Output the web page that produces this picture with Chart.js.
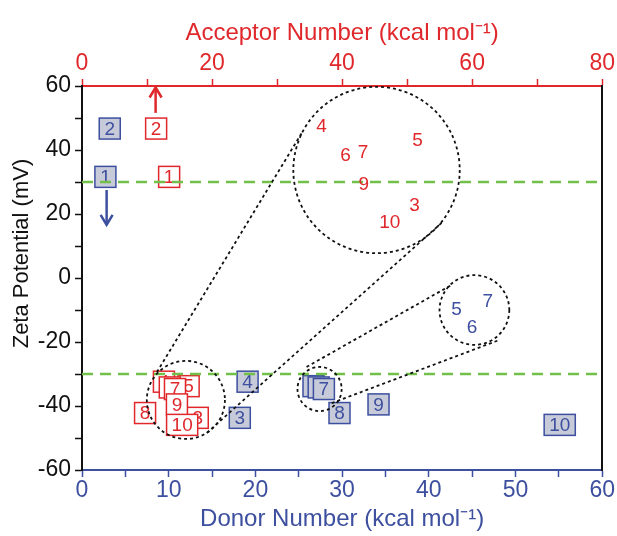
<!DOCTYPE html>
<html>
<head>
<meta charset="utf-8">
<script src="https://cdn.jsdelivr.net/npm/chart.js@4.4.1/dist/chart.umd.min.js"></script>
<style>
  html, body { margin: 0; padding: 0; background: #ffffff; }
  #wrap { width: 617px; height: 536px; }
</style>
</head>
<body>
<div id="wrap"><canvas id="c" width="617" height="536"></canvas></div>
<script>
// ---------------- DATA ----------------
const sampleLabels   = ['1', '2', '3', '4', '5', '6', '7', '8', '9', '10'];
const donorNumber    = [2.7, 3.2, 18.2, 19.1, 26.7, 27.3, 27.9, 29.7, 34.2, 55.1];
const acceptorNumber = [13.4, 11.4, 17.8, 12.6, 16.4, 13.5, 14.3, 9.7, 14.6, 15.4];
const zetaPotential  = [31.6, 46.7, -43.7, -32.4, -33.8, -34.2, -34.7, -42.2, -39.5, -45.9];
const thresholdLines = [30, -30];

const donorTicks    = [0, 10, 20, 30, 40, 50, 60];
const acceptorTicks = [0, 20, 40, 60, 80];
const zetaTicks     = [-60, -40, -20, 0, 20, 40, 60];

// zoom-in annotation (in donor-number / zeta coordinates)
const zoomCircles = [ // [centerX, centerY, radius (zeta units)]
  [11.98, -38.1, 12.2],
  [33.97, 33.75, 26.0],
  [27.4, -34.7, 6.9],
  [45.26, -10.0, 10.9]
];
const zoomLines = [ // [x1, y1, x2, y2]
  [8.64, -29.4, 25.34, 45.3],
  [14.4, -48.4, 41.58, 17.5],
  [25.9, -27.8, 42.6, -2.2],
  [28.8, -39.1, 48.1, -19.4]
];
const redInsetLabels  = ['4', '5', '6', '7', '9', '3', '10'];
const redInsetX       = [27.64, 38.7, 30.4, 32.4, 32.5, 38.35, 35.5];
const redInsetY       = [47.2, 42.8, 38.1, 39.1, 29.1, 22.5, 17.2];
const blueInsetLabels = ['5', '7', '6'];
const blueInsetX      = [43.2, 46.8, 45.0];
const blueInsetY      = [-10.0, -7.5, -15.6];
const arrowRed  = [8.49, 51.6, 8.49, 60];   // x, yFrom, x, yTo
const arrowBlue = [2.84, 27.5, 2.84, 16.6];

// ---------------- STYLE ----------------
const RED = '#e0282c';
const BLUE = '#3d4f9f';
const BLUE_FILL = '#c7cad8';
const GREEN = '#72c04a';
const FONT = '"Liberation Sans", Arial, sans-serif';

const donorPts = donorNumber.map((v, i) => ({ x: v, y: zetaPotential[i], label: sampleLabels[i] }));
const accPts = acceptorNumber.map((v, i) => ({ x: v, y: zetaPotential[i], label: sampleLabels[i] }));

function drawBox(ctx, x, y, label, stroke, fill, color) {
  ctx.save();
  ctx.font = '19px ' + FONT;
  const tw = ctx.measureText(label).width;
  const w = Math.max(21, tw + 10), h = 21;
  ctx.fillStyle = fill;
  ctx.fillRect(x - w / 2, y - h / 2, w, h);
  ctx.lineWidth = 1.5;
  ctx.strokeStyle = stroke;
  ctx.strokeRect(x - w / 2, y - h / 2, w, h);
  ctx.fillStyle = color;
  ctx.textAlign = 'center';
  ctx.textBaseline = 'middle';
  ctx.fillText(label, x, y + 1);
  ctx.restore();
}

function drawArrow(ctx, x1, y1, x2, y2, color) {
  ctx.save();
  ctx.strokeStyle = color;
  ctx.fillStyle = color;
  ctx.lineWidth = 2.5;
  ctx.beginPath();
  ctx.moveTo(x1, y1);
  ctx.lineTo(x2, y2);
  ctx.stroke();
  const dir = Math.sign(y2 - y1);
  ctx.beginPath();
  ctx.moveTo(x2 - 6, y2 - dir * 10);
  ctx.lineTo(x2, y2);
  ctx.lineTo(x2 + 6, y2 - dir * 10);
  ctx.stroke();
  ctx.restore();
}

const overlayPlugin = {
  id: 'overlay',
  afterDatasetsDraw(chart) {
    const ctx = chart.ctx;
    const xs = chart.scales.x, ys = chart.scales.y;
    const ca = chart.chartArea;
    // boxes
    const mB = chart.getDatasetMeta(0);
    mB.data.forEach((el, i) => drawBox(ctx, el.x, el.y, donorPts[i].label, BLUE, BLUE_FILL, BLUE));
    const mR = chart.getDatasetMeta(1);
    mR.data.forEach((el, i) => drawBox(ctx, el.x, el.y, accPts[i].label, RED, '#ffffff', RED));

    ctx.save();
    ctx.beginPath();
    ctx.rect(ca.left, ca.top, ca.right - ca.left, ca.bottom - ca.top);
    ctx.clip();
    // threshold lines
    ctx.strokeStyle = GREEN;
    ctx.lineWidth = 2.5;
    ctx.setLineDash([11, 7]);
    thresholdLines.forEach(v => {
      const py = ys.getPixelForValue(v);
      ctx.beginPath();
      ctx.moveTo(ca.left, py);
      ctx.lineTo(ca.right, py);
      ctx.stroke();
    });
    // zoom circles & lines
    ctx.strokeStyle = '#111111';
    ctx.lineWidth = 1.8;
    ctx.setLineDash([3, 3]);
    zoomCircles.forEach(c => {
      const px = xs.getPixelForValue(c[0]), py = ys.getPixelForValue(c[1]);
      const r = Math.abs(ys.getPixelForValue(0) - ys.getPixelForValue(c[2]));
      ctx.beginPath();
      ctx.arc(px, py, r, 0, Math.PI * 2);
      ctx.stroke();
    });
    zoomLines.forEach(l => {
      ctx.beginPath();
      ctx.moveTo(xs.getPixelForValue(l[0]), ys.getPixelForValue(l[1]));
      ctx.lineTo(xs.getPixelForValue(l[2]), ys.getPixelForValue(l[3]));
      ctx.stroke();
    });
    ctx.setLineDash([]);
    // inset labels
    ctx.font = '19px ' + FONT;
    ctx.textAlign = 'center';
    ctx.textBaseline = 'middle';
    ctx.fillStyle = RED;
    redInsetLabels.forEach((t, i) => ctx.fillText(t, xs.getPixelForValue(redInsetX[i]), ys.getPixelForValue(redInsetY[i])));
    ctx.fillStyle = BLUE;
    blueInsetLabels.forEach((t, i) => ctx.fillText(t, xs.getPixelForValue(blueInsetX[i]), ys.getPixelForValue(blueInsetY[i])));
    ctx.restore();
    // arrows
    drawArrow(ctx, xs.getPixelForValue(arrowRed[0]), ys.getPixelForValue(arrowRed[1]),
              xs.getPixelForValue(arrowRed[2]), ys.getPixelForValue(arrowRed[3]) + 1.5, RED);
    drawArrow(ctx, xs.getPixelForValue(arrowBlue[0]), ys.getPixelForValue(arrowBlue[1]),
              xs.getPixelForValue(arrowBlue[2]), ys.getPixelForValue(arrowBlue[3]), BLUE);
  }
};

function labelEvery(list) {
  return function (v) { return list.includes(v) ? String(v) : ''; };
}

new Chart(document.getElementById('c'), {
  type: 'scatter',
  data: {
    datasets: [
      { label: 'Donor Number', data: donorPts, xAxisID: 'x', yAxisID: 'y', pointRadius: 0, pointHoverRadius: 0 },
      { label: 'Acceptor Number', data: accPts, xAxisID: 'x2', yAxisID: 'y', pointRadius: 0, pointHoverRadius: 0 }
    ]
  },
  options: {
    responsive: false,
    animation: false,
    devicePixelRatio: 1,
    layout: { padding: { left: 0, right: 0, top: 0, bottom: 0 } },
    plugins: { legend: { display: false }, tooltip: { enabled: false } },
    scales: {
      x: {
        type: 'linear', position: 'bottom', min: 0, max: 60,
        afterFit(s) { s.height = 66; },
        border: { color: BLUE, width: 2 },
        grid: { drawOnChartArea: false, color: BLUE, tickLength: 7, tickWidth: 1.5 },
        ticks: { stepSize: 5, autoSkip: false, maxRotation: 0, color: BLUE, padding: 0,
                 font: { family: FONT, size: 23 }, callback: labelEvery(donorTicks) },
        title: { display: true, text: 'Donor Number (kcal mol⁻¹)', color: BLUE,
                 font: { family: FONT, size: 24 }, padding: { top: 0, bottom: 2 } }
      },
      x2: {
        type: 'linear', position: 'top', min: 0, max: 80,
        afterFit(s) { s.height = 86; },
        border: { color: RED, width: 2 },
        grid: { drawOnChartArea: false, color: RED, tickLength: 7, tickWidth: 1.5 },
        ticks: { stepSize: 10, autoSkip: false, maxRotation: 0, color: RED, padding: 2,
                 font: { family: FONT, size: 23 }, callback: labelEvery(acceptorTicks) },
        title: { display: true, text: 'Acceptor Number (kcal mol⁻¹)', color: RED,
                 font: { family: FONT, size: 24 }, padding: { top: 19, bottom: 0 } }
      },
      y: {
        type: 'linear', position: 'left', min: -60, max: 60,
        afterFit(s) { s.width = 82; },
        border: { color: '#111111', width: 2 },
        grid: { drawOnChartArea: false, color: '#111111', tickLength: 7, tickWidth: 1.5 },
        ticks: { stepSize: 10, autoSkip: false, color: '#111111', padding: 4,
                 font: { family: FONT, size: 23 }, callback: labelEvery(zetaTicks) },
        title: { display: true, text: '        Zeta Potential (mV)', color: '#111111',
                 font: { family: FONT, size: 22 }, padding: { top: 9, bottom: 0 } }
      },
      yR: {
        type: 'linear', position: 'right', min: -60, max: 60,
        afterFit(s) { s.width = 14; },
        border: { color: '#111111', width: 2 },
        grid: { display: false },
        ticks: { display: false }
      }
    }
  },
  plugins: [overlayPlugin]
});
</script>
</body>
</html>
